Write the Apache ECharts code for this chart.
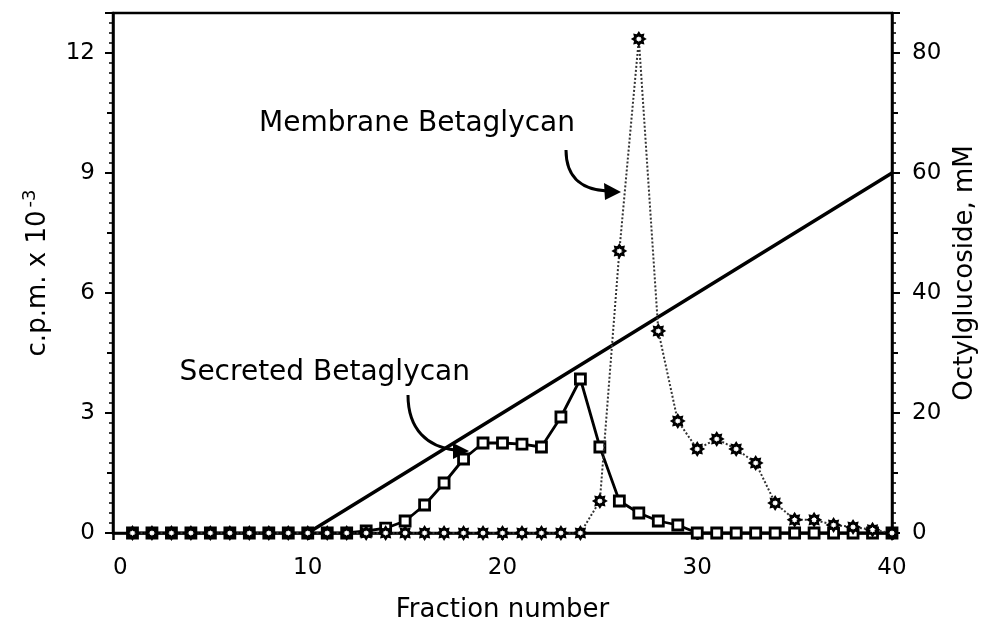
<!DOCTYPE html>
<html>
<head>
<meta charset="utf-8">
<script src="https://cdn.jsdelivr.net/npm/echarts@6/dist/echarts.min.js"></script>
<style>html,body{margin:0;padding:0;background:#fff}#c{width:997px;height:634px}</style>
</head>
<body>
<div id="c"></div>
<script>
// ---- data ----
const fractions = [1,2,3,4,5,6,7,8,9,10,11,12,13,14,15,16,17,18,19,20,21,22,23,24,25,26,27,28,29,30,31,32,33,34,35,36,37,38,39,40];
const secreted  = [0,0,0,0,0,0,0,0,0,0,0,0,0.05,0.12,0.3,0.7,1.25,1.85,2.25,2.25,2.22,2.15,2.9,3.85,2.15,0.8,0.5,0.3,0.2,0,0,0,0,0,0,0,0,0,0,0];
const membrane  = [0,0,0,0,0,0,0,0,0,0,0,0,0,0,0,0,0,0,0,0,0,0,0,0,0.8,7.05,12.35,5.05,2.8,2.1,2.35,2.1,1.75,0.75,0.33,0.33,0.2,0.15,0.08,0];
const gradientFractions = [10, 40];
const gradientMM = [0, 60];
const baselineFractions = [24, 30];
const baselineValues = [0, 0];
const leftTicks = [0, 3, 6, 9, 12];
const rightTicks = [0, 20, 40, 60, 80];
const xTicks = [0, 10, 20, 30, 40];

const FONT = 'DejaVu Sans';
const zip = (a, b) => a.map((v, i) => [v, b[i]]);

// 8-point star marker
const starPath = (() => {
  let d = 'path://';
  for (let i = 0; i < 16; i++) {
    const r = i % 2 === 0 ? 10 : 6.5;
    const a = Math.PI * i / 8;
    d += (i === 0 ? 'M' : 'L') + (r * Math.cos(a)).toFixed(2) + ',' + (r * Math.sin(a)).toFixed(2) + ' ';
  }
  return d + 'Z';
})();

const chart = echarts.init(document.getElementById('c'), null, {renderer: 'canvas'});
const lblStyle = {color: '#000', fontSize: 23, fontFamily: FONT};
const yLeftMax = 13, yRightMax = 260 / 3;

const option = {
  animation: false,
  backgroundColor: '#fff',
  grid: {left: 113, right: 105, top: 13, bottom: 101, show: true, borderColor: '#000', borderWidth: 2.5},
  xAxis: {
    type: 'value', min: 0, max: 40, interval: 10,
    axisLine: {lineStyle: {color: '#000', width: 2.5}},
    axisTick: {length: 7, lineStyle: {color: '#000', width: 2.5}},
    axisLabel: Object.assign({margin: 24, alignMinLabel: 'left', formatter: v => xTicks.includes(v) ? String(v) : ''}, lblStyle),
    splitLine: {show: false},
    name: 'Fraction number', nameLocation: 'middle', nameGap: 64,
    nameTextStyle: {color: '#000', fontSize: 26, fontFamily: FONT}
  },
  yAxis: [
    {
      type: 'value', position: 'left', min: 0, max: yLeftMax, interval: 3,
      axisLine: {show: true, lineStyle: {color: '#000', width: 2.5}},
      axisTick: {length: 8, lineStyle: {color: '#000', width: 2}},
      minorTick: {show: true, splitNumber: 12, length: 4, lineStyle: {color: '#000', width: 1.5}},
      axisLabel: Object.assign({margin: 18, showMaxLabel: false, formatter: v => leftTicks.includes(v) ? String(v) : ''}, lblStyle),
      splitLine: {show: false},
      name: 'c.p.m. x 10{sup|-3}', nameLocation: 'middle', nameGap: 58,
      nameTextStyle: {color: '#000', fontSize: 26, fontFamily: FONT,
        rich: {sup: {fontSize: 18, fontFamily: FONT, color: '#000', verticalAlign: 'top', padding: [0, 0, 16, 3]}}}
    },
    {
      type: 'value', position: 'right', min: 0, max: yRightMax, interval: 20,
      axisLine: {show: true, lineStyle: {color: '#000', width: 2.5}},
      axisTick: {length: 8, lineStyle: {color: '#000', width: 2}},
      minorTick: {show: true, splitNumber: 12, length: 4, lineStyle: {color: '#000', width: 1.5}},
      axisLabel: Object.assign({margin: 20, showMaxLabel: false, formatter: v => rightTicks.includes(v) ? String(v) : ''}, lblStyle),
      splitLine: {show: false},
      name: 'Octylglucoside, mM', nameLocation: 'middle', nameGap: 56,
      nameTextStyle: {color: '#000', fontSize: 26, fontFamily: FONT}
    },
    {
      type: 'value', position: 'left', min: 0, max: yLeftMax, interval: 1.5,
      axisLine: {show: false}, axisLabel: {show: false}, splitLine: {show: false},
      axisTick: {length: 6, lineStyle: {color: '#000', width: 2}}
    },
    {
      type: 'value', position: 'right', min: 0, max: yRightMax, interval: 10,
      axisLine: {show: false}, axisLabel: {show: false}, splitLine: {show: false},
      axisTick: {length: 6, lineStyle: {color: '#000', width: 2}}
    }
  ],
  series: [
    {
      name: 'Octylglucoside gradient', type: 'line', yAxisIndex: 1,
      data: zip(gradientFractions, gradientMM), symbol: 'none',
      lineStyle: {color: '#000', width: 3.5}, z: 2
    },
    {
      name: 'baseline', type: 'line', yAxisIndex: 0,
      data: zip(baselineFractions, baselineValues), symbol: 'none',
      lineStyle: {color: '#000', width: 1.8}, z: 2
    },
    {
      name: 'Secreted Betaglycan', type: 'line', yAxisIndex: 0,
      data: zip(fractions, secreted),
      symbol: 'rect', symbolSize: 10,
      itemStyle: {color: '#fff', borderColor: '#000', borderWidth: 2.8},
      lineStyle: {color: '#000', width: 2.8}, z: 3
    },
    {
      name: 'Membrane Betaglycan', type: 'line', yAxisIndex: 0,
      data: zip(fractions, membrane),
      symbol: starPath, symbolSize: 11,
      itemStyle: {color: '#fff', borderColor: '#000', borderWidth: 2.6},
      lineStyle: {color: '#333', width: 2, type: 'dotted'}, z: 4
    }
  ],
  graphic: [
    {type: 'text', x: 575, y: 124, style: {text: 'Membrane Betaglycan', fontSize: 28, fontFamily: FONT, fill: '#000', align: 'right', verticalAlign: 'middle'}},
    {type: 'bezierCurve', shape: {x1: 566, y1: 150, cpx1: 566, cpy1: 180, cpx2: 585, cpy2: 190, x2: 607, y2: 191}, style: {stroke: '#000', lineWidth: 3, fill: null}},
    {type: 'polygon', shape: {points: [[621, 192], [604, 183], [605, 200]]}, style: {fill: '#000'}},
    {type: 'text', x: 470, y: 373, style: {text: 'Secreted Betaglycan', fontSize: 28, fontFamily: FONT, fill: '#000', align: 'right', verticalAlign: 'middle'}},
    {type: 'bezierCurve', shape: {x1: 408, y1: 395, cpx1: 408, cpy1: 430, cpx2: 428, cpy2: 447, x2: 455, y2: 450}, style: {stroke: '#000', lineWidth: 3, fill: null}},
    {type: 'polygon', shape: {points: [[469, 451], [453, 443], [453, 459]]}, style: {fill: '#000'}}
  ]
};
chart.setOption(option);
</script>
</body>
</html>
